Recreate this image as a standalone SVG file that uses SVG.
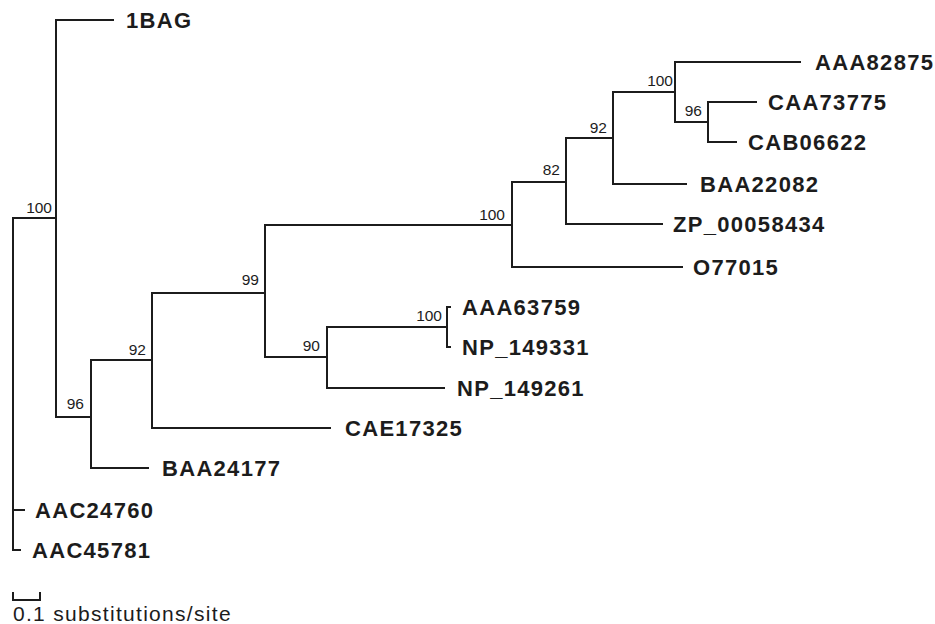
<svg xmlns="http://www.w3.org/2000/svg" width="935" height="624" viewBox="0 0 935 624">
<style>
.e{stroke:#1c1c1c;stroke-width:2;fill:none;stroke-linecap:square}
.t{font-family:"Liberation Sans",Arial,sans-serif;font-weight:bold;font-size:22px;letter-spacing:1.3px;fill:#1c1c1c}
.b{font-family:"Liberation Sans",Arial,sans-serif;font-size:15.5px;fill:#1c1c1c;text-anchor:end}
.s{font-family:"Liberation Sans",Arial,sans-serif;font-size:21px;letter-spacing:1.3px;fill:#1c1c1c}
</style>
<rect width="935" height="624" fill="#ffffff"/>
<g id="connectors">
<path class="e" d="M13,218V550M13,218H56M56,20V417M56,20H113M56,417H91M91,360V468M91,360H152M91,468H148M152,293V428M152,293H265M152,428H330M265,225V357M265,225H512M265,357H327M327,327V388M327,327H447M327,388H444M447,307V347M447,307H450M447,347H450M512,182V267M512,182H566M512,267H682M566,138V224M566,138H613M566,224H662M613,92V184M613,92H675M613,184H686M675,62V122M675,62H800M675,122H708M708,102V142M708,102H756M708,142H736M13,510H24M13,550H20"/>
</g>
<g id="leaf-1BAG"><text class="t" x="126" y="28">1BAG</text></g>
<g id="leaf-AAA82875"><text class="t" x="815" y="70">AAA82875</text></g>
<g id="leaf-CAA73775"><text class="t" x="768" y="110">CAA73775</text></g>
<g id="leaf-CAB06622"><text class="t" x="748" y="150">CAB06622</text></g>
<g id="leaf-BAA22082"><text class="t" x="700" y="192">BAA22082</text></g>
<g id="leaf-ZP_00058434"><text class="t" x="673" y="232">ZP_00058434</text></g>
<g id="leaf-O77015"><text class="t" x="693" y="275">O77015</text></g>
<g id="leaf-AAA63759"><text class="t" x="462" y="315">AAA63759</text></g>
<g id="leaf-NP_149331"><text class="t" x="462" y="355">NP_149331</text></g>
<g id="leaf-NP_149261"><text class="t" x="457" y="396">NP_149261</text></g>
<g id="leaf-CAE17325"><text class="t" x="345" y="436">CAE17325</text></g>
<g id="leaf-BAA24177"><text class="t" x="162" y="476">BAA24177</text></g>
<g id="leaf-AAC24760"><text class="t" x="35" y="518">AAC24760</text></g>
<g id="leaf-AAC45781"><text class="t" x="32" y="558">AAC45781</text></g>
<g id="node-root100"><text class="b" x="52" y="213">100</text></g>
<g id="node-96a"><text class="b" x="84" y="409">96</text></g>
<g id="node-92a"><text class="b" x="146" y="355">92</text></g>
<g id="node-99"><text class="b" x="259" y="285">99</text></g>
<g id="node-90"><text class="b" x="320" y="351">90</text></g>
<g id="node-100c"><text class="b" x="442" y="321">100</text></g>
<g id="node-100b"><text class="b" x="505" y="220">100</text></g>
<g id="node-82"><text class="b" x="560" y="175">82</text></g>
<g id="node-92b"><text class="b" x="607" y="133">92</text></g>
<g id="node-100d"><text class="b" x="673" y="86">100</text></g>
<g id="node-96b"><text class="b" x="702" y="116">96</text></g>
<g id="scale">
<path class="e" d="M13,593V600H40V593"/>
<text class="s" x="13" y="621">0.1 substitutions/site</text>
</g>
</svg>
